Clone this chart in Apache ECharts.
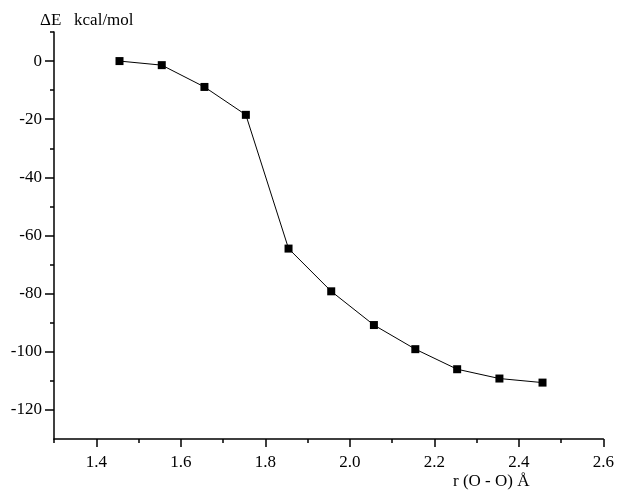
<!DOCTYPE html>
<html>
<head>
<meta charset="utf-8">
<script src="https://cdn.jsdelivr.net/npm/echarts@6/dist/echarts.min.js"></script>
<style>html,body{margin:0;padding:0;background:#fff;}#c{width:617px;height:494px;}</style>
</head>
<body>
<div id="c"></div>
<script>
// Data
var rOO = [1.455, 1.555, 1.656, 1.754, 1.855, 1.956, 2.057, 2.155, 2.254, 2.354, 2.456];
var deltaE = [0, -1.4, -8.9, -18.5, -64.5, -79.2, -90.8, -99.1, -106, -109.2, -110.6];
var xLabels = [1.4, 1.6, 1.8, 2.0, 2.2, 2.4, 2.6];
var xMinorTicks = [1.3, 1.5, 1.7, 1.9, 2.1, 2.3, 2.5];
var yLabels = [0, -20, -40, -60, -80, -100, -120];
var yMinorTicks = [10, -10, -30, -50, -70, -90, -110];

var font = 'Liberation Serif';
var chart = echarts.init(document.getElementById('c'), null, {renderer: 'canvas'});
var axisLineStyle = {color: '#000', width: 1.5};
chart.setOption({
  animation: false,
  backgroundColor: '#fff',
  title: [
    {text: 'ΔE   kcal/mol', left: 40, top: 12, padding: 0,
     textStyle: {fontFamily: font, fontSize: 17, fontWeight: 'normal', color: '#000'}},
    {text: 'r (O - O) Å', left: 453, top: 473, padding: 0,
     textStyle: {fontFamily: font, fontSize: 17, fontWeight: 'normal', color: '#000'}}
  ],
  grid: {left: 54, right: 12, top: 32, bottom: 55, containLabel: false},
  xAxis: [
    {type: 'value', min: 1.3, max: 2.6, position: 'bottom',
     axisLine: {show: true, onZero: false, lineStyle: axisLineStyle},
     axisTick: {show: true, inside: false, length: 8, customValues: xLabels, lineStyle: {color: '#000', width: 1.5}},
     axisLabel: {customValues: xLabels, fontFamily: font, fontSize: 17, color: '#000', margin: 15,
       formatter: function (v) { return v.toFixed(1); }},
     splitLine: {show: false}},
    {type: 'value', min: 1.3, max: 2.6, position: 'bottom',
     axisLine: {show: false, onZero: false},
     axisTick: {show: true, inside: false, length: 4, customValues: xMinorTicks, lineStyle: {color: '#000', width: 1.5}},
     axisLabel: {show: false},
     splitLine: {show: false}}
  ],
  yAxis: [
    {type: 'value', min: -130, max: 10, position: 'left',
     axisLine: {show: true, onZero: false, lineStyle: axisLineStyle},
     axisTick: {show: true, inside: false, length: 9, customValues: yLabels, lineStyle: {color: '#000', width: 1.5}},
     axisLabel: {customValues: yLabels, fontFamily: font, fontSize: 17, color: '#000', margin: 12},
     splitLine: {show: false}},
    {type: 'value', min: -130, max: 10, position: 'left',
     axisLine: {show: false, onZero: false},
     axisTick: {show: true, inside: false, length: 4, customValues: yMinorTicks, lineStyle: {color: '#000', width: 1.5}},
     axisLabel: {show: false},
     splitLine: {show: false}}
  ],
  series: [{
    type: 'line',
    xAxisIndex: 0, yAxisIndex: 0,
    data: rOO.map(function (x, i) { return [x, deltaE[i]]; }),
    symbol: 'rect', symbolSize: 8, showSymbol: true,
    itemStyle: {color: '#000'},
    lineStyle: {color: '#000', width: 1}
  }]
});
</script>
</body>
</html>
